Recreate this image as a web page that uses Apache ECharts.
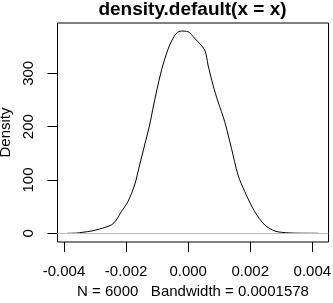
<!DOCTYPE html>
<html><head><meta charset="utf-8">
<script src="https://cdn.jsdelivr.net/npm/echarts@6/dist/echarts.min.js"></script>
<style>html,body{margin:0;padding:0;background:#fff}#c{width:333px;height:303px}</style>
</head><body><div id="c"></div>
<script>
var densityX = [-0.00389,-0.0036,-0.003394,-0.003100,-0.002855,-0.002477,-0.002316,-0.002155,-0.001942,-0.001726,-0.001565,-0.001403,-0.001242,-0.001113,-0.000974,-0.000813,-0.000597,-0.000381,-0.000219,-0.000006,0.000210,0.000532,0.000639,0.000800,0.000961,0.001177,0.001394,0.001606,0.001823,0.002145,0.002468,0.002790,0.003006,0.00325,0.0036,0.00418];
var densityY = [0.05,0.4,1.9,4.5,8.1,15.6,25,40.5,59.3,90.6,128,165.6,203,240.6,278,315.6,353,375,379.3,378,365.6,343.7,315.6,278,246.8,209.3,159.4,109.3,78,40.5,15.6,4.3,1.9,0.7,0.2,0.05];
var xTicks = [-0.004,-0.002,0,0.002,0.004];
var xTickLabels = ["-0.004","-0.002","0.000","0.002","0.004"];
var yTicks = [0,100,200,300];
var titleText = "density.default(x = x)";
var subText = "N = 6000   Bandwidth = 0.0001578";
var yName = "Density";

var pts = densityX.map(function(x,i){return [x,densityY[i]];});
var FONT = "Liberation Sans, Arial, sans-serif";
var chart = echarts.init(document.getElementById('c'));
chart.setOption({
  animation:false,
  backgroundColor:'#fff',
  title:{text:titleText,left:192.5,textAlign:'center',top:0,padding:0,
    textStyle:{fontFamily:FONT,fontWeight:'bold',fontSize:19,color:'#000'}},
  grid:{left:57.5,top:23,right:4.5,bottom:61,show:true,borderColor:'#000',borderWidth:1,
    containLabel:false,outerBoundsMode:'none'},
  xAxis:{type:'value',min:-0.00421,max:0.00452,
    axisLine:{show:false,onZero:false},splitLine:{show:false},
    axisTick:{show:true,length:10,inside:false,customValues:xTicks,lineStyle:{color:'#000'}},
    axisLabel:{customValues:xTicks,margin:22,fontFamily:FONT,fontSize:15,color:'#000',
      formatter:function(v){var i=xTicks.indexOf(v);return i>=0?xTickLabels[i]:'';}},
    name:subText,nameLocation:'middle',nameGap:41,
    nameTextStyle:{fontFamily:FONT,fontSize:15,color:'#000'}},
  yAxis:{type:'value',min:-16.3,max:394.4,
    axisLine:{show:false,onZero:false},splitLine:{show:false},
    axisTick:{show:true,length:10,inside:false,customValues:yTicks,lineStyle:{color:'#000'}},
    axisLabel:{customValues:yTicks,rotate:90,margin:21.5,fontFamily:FONT,fontSize:15,color:'#000'},
    name:yName,nameLocation:'middle',nameGap:42.5,nameRotate:90,
    nameTextStyle:{fontFamily:FONT,fontSize:15,color:'#000'}},
  series:[{type:'line',data:pts,smooth:0.3,showSymbol:false,symbol:'none',
    lineStyle:{color:'#000',width:1},
    markLine:{silent:true,symbol:['none','none'],label:{show:false},
      lineStyle:{color:'#bebebe',width:1,type:'solid'},data:[{yAxis:0}]}}]
});
</script></body></html>
